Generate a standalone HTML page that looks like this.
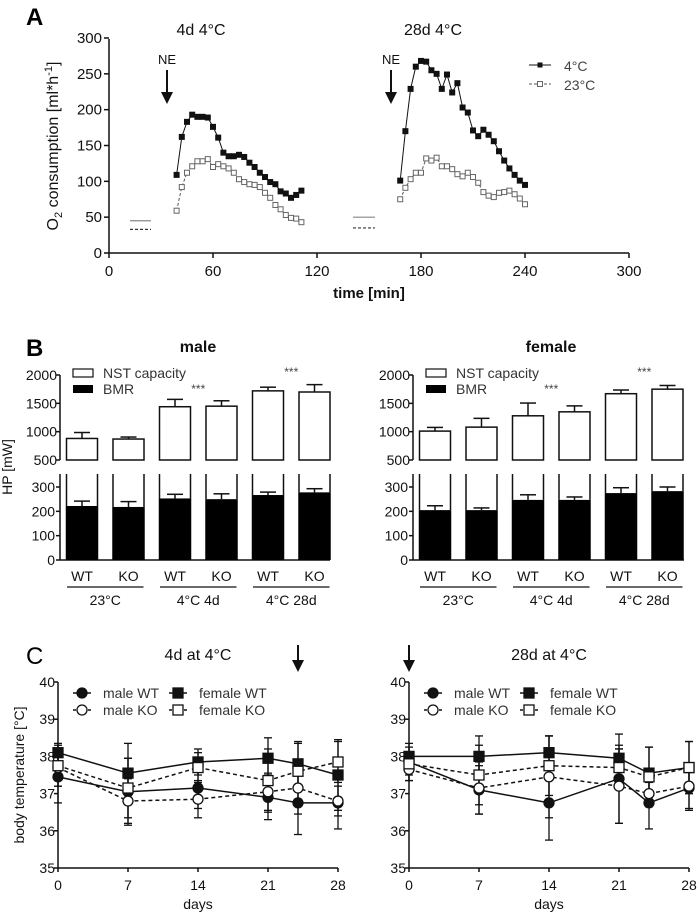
<!DOCTYPE html>
<html><head><meta charset="utf-8"><style>
body{margin:0;background:#fff;}
svg{display:block;font-family:"Liberation Sans",Arial,sans-serif;}
</style></head><body>
<svg id="fig" width="697" height="914" viewBox="0 0 697 914" xmlns="http://www.w3.org/2000/svg">
<text x="26" y="25" font-size="24" font-weight="bold">A</text>
<text x="26" y="356" font-size="24" font-weight="bold">B</text>
<text x="26" y="664" font-size="24">C</text>
</svg>
<script>
// ---------- Panel A data ----------
const aTimes4d = [39,42,45,48,51,54,57,60,63,66,69,72,75,78,81,84,87,90,93,96,99,102,105,108,111];
const aCold4d = [109,162,183,193,190,190,189,176,161,140,135,135,137,134,126,120,112,106,99,96,86,83,77,81,87];
const aWarm4d = [59,92,112,121,128,128,131,120,124,121,118,112,103,99,96,95,92,84,77,67,61,53,49,48,43];
const aTimes28d = [168,171,174,177,180,183,186,189,192,195,198,201,204,207,210,213,216,219,222,225,228,231,234,237,240];
const aCold28d = [101,170,229,260,268,267,255,250,229,249,224,237,203,196,171,163,172,165,156,142,129,118,109,101,95];
const aWarm28d = [75,91,103,112,112,132,129,133,121,121,117,110,107,112,106,98,85,80,78,84,85,87,82,76,68];
const aBaseline4d = [45,33];
const aBaseline28d = [50,35];
const aXTicks = [0,60,120,180,240,300];
const aYTicks = [0,50,100,150,200,250,300];
// ---------- Panel B data ----------
const bCats = ["WT","KO","WT","KO","WT","KO"];
const bGroups = ["23°C","4°C 4d","4°C 28d"];
const bMaleNST = [880,870,1440,1450,1720,1700];
const bMaleNSTErr = [105,35,130,95,65,130];
const bMaleBMR = [222,218,253,250,267,278];
const bMaleBMRErr = [20,22,17,22,12,15];
const bFemaleNST = [1010,1080,1280,1350,1670,1750];
const bFemaleNSTErr = [65,155,225,105,65,65];
const bFemaleBMR = [205,205,247,247,275,283];
const bFemaleBMRErr = [18,9,21,12,22,17];
const bUpperTicks = [500,1000,1500,2000];
const bLowerTicks = [0,100,200,300];
// ---------- Panel C data ----------
const cDays = [0,7,14,21,24,28];
const cXTicks = [0,7,14,21,28];
const cYTicks = [35,36,37,38,39,40];
const c4MaleWT = [37.45,37.05,37.15,36.9,36.75,36.75];
const c4MaleWTErr = [0.7,0.9,0.55,0.6,0.85,0.7];
const c4MaleKO = [37.7,36.8,36.85,37.05,37.15,36.8];
const c4MaleKOErr = [0.5,0.6,0.5,0.5,0.7,0.4];
const c4FemWT = [38.1,37.55,37.85,37.95,37.8,37.5];
const c4FemWTErr = [0.25,0.8,0.35,0.55,0.6,0.95];
const c4FemKO = [37.75,37.15,37.7,37.35,37.6,37.85];
const c4FemKOErr = [0.55,0.8,0.4,0.85,0.75,0.55];
const c28MaleWT = [37.85,37.1,36.75,37.4,36.75,37.15];
const c28MaleWTErr = [0.5,0.65,1.0,1.2,0.7,0.6];
const c28MaleKO = [37.65,37.15,37.45,37.2,37.0,37.2];
const c28MaleKOErr = [0.3,0.7,1.1,1.0,0.3,0.6];
const c28FemWT = [38.0,38.0,38.1,37.95,37.55,37.7];
const c28FemWTErr = [0.25,0.55,0.45,0.35,0.7,0.7];
const c28FemKO = [37.8,37.5,37.75,37.7,37.45,37.7];
const c28FemKOErr = [0.3,0.8,0.8,0.5,0.8,0.7];

const svg = document.getElementById('fig');
const NS = 'http://www.w3.org/2000/svg';
function mk(tag, attrs, parent){
  const e = document.createElementNS(NS, tag);
  for (const k in attrs) e.setAttribute(k, attrs[k]);
  (parent||svg).appendChild(e);
  return e;
}
function txt(x,y,s,size,anchor,extra){
  const t = mk('text', Object.assign({x:x,y:y,'font-size':size,'text-anchor':anchor||'middle',fill:'#111'}, extra||{}));
  t.textContent = s;
  return t;
}
function line(x1,y1,x2,y2,w,dash,col){
  const a = {x1:x1,y1:y1,x2:x2,y2:y2,stroke:col||'#111','stroke-width':w||1.5};
  if (dash) a['stroke-dasharray']=dash;
  return mk('line', a);
}

// ================= Panel A =================
const ax = v => 109 + v*(520/300);
const ay = v => 253 - v*(215/300);
let e;
e = line(109,253,629,253,1.5);  
e = line(109,39,109,253,1.5);  
aXTicks.forEach(t=>{
  e = line(ax(t),253,ax(t),258,1.5);  
  e = txt(ax(t),276,String(t),15);  
});
aYTicks.forEach(t=>{
  e = line(104,ay(t),109,ay(t),1.5);  
  e = txt(102,ay(t)+5,String(t),15,'end');  
});
e = txt(369,298,'time [min]',15,'middle',{'font-weight':'bold'});  
e = txt(0,0,'',16,'middle',{transform:'translate(58,146) rotate(-90)'});
e.innerHTML = 'O<tspan font-size="11" dy="4">2</tspan><tspan dy="-4"> consumption [ml*h</tspan><tspan font-size="11" dy="-6">-1</tspan><tspan dy="6">]</tspan>';
 
e = txt(201,35,'4d 4°C',16);  
e = txt(433,35,'28d 4°C',16);  

function arrow(x,y1,y2,name){
  const g = mk('g',{});
  
  
  mk('line',{x1:x,y1:y1,x2:x,y2:y2-10,stroke:'#111','stroke-width':2},g);
  mk('polygon',{points:`${x-6},${y2-12} ${x+6},${y2-12} ${x},${y2}`,fill:'#111'},g);
  return g;
}
arrow(167,70,104,'a-ne-arrow-4d');
arrow(391,70,104,'a-ne-arrow-28d');
e = txt(167,64,'NE',13);  
e = txt(391,64,'NE',13);  

e = line(130,ay(aBaseline4d[0]),151,ay(aBaseline4d[0]),1.2,null,'#888');  
e = line(130,ay(aBaseline4d[1]),151,ay(aBaseline4d[1]),1.2,'3,2','#333');  
e = line(353,ay(aBaseline28d[0]),375,ay(aBaseline28d[0]),1.2,null,'#888');  
e = line(353,ay(aBaseline28d[1]),375,ay(aBaseline28d[1]),1.2,'3,2','#333');  

function aSeries(times, vals, filled, name){
  const pts = times.map((t,i)=>ax(t)+','+ay(vals[i])).join(' ');
  const pl = mk('polyline',{points:pts,fill:'none',stroke:filled?'#111':'#555','stroke-width':1,'stroke-dasharray':filled?'':'3,2'});
  
  
  times.forEach((t,i)=>{
    const r = mk('rect',{x:ax(t)-2.5,y:ay(vals[i])-2.5,width:5,height:5,fill:filled?'#111':'#fff',stroke:filled?'#111':'#666','stroke-width':1});
    
    
  });
}
aSeries(aTimes4d,aWarm4d,false,'a-23c-4d');
aSeries(aTimes4d,aCold4d,true,'a-4c-4d');
aSeries(aTimes28d,aWarm28d,false,'a-23c-28d');
aSeries(aTimes28d,aCold28d,true,'a-4c-28d');
// legend A
e = line(529,65,551,65,1);  
e = mk('rect',{x:537.5,y:62.5,width:5,height:5,fill:'#111'});  
e = txt(564,71,'4°C',14,'start',{fill:'#444'});  
e = line(529,84,551,84,1,'3,2','#555');  
e = mk('rect',{x:537.5,y:81.5,width:5,height:5,fill:'#fff',stroke:'#666'});  
e = txt(564,90,'23°C',14,'start',{fill:'#444'});  

// ================= Panel B =================
function bPanel(x0, xEnd, nst, nstErr, bmr, bmrErr, title, pfx){
  const uy = v => 460 - (v-500)*(85/1500);
  const ly = v => 560 - v*(73/300);
  const lowTop = 474;
  const bx = i => x0 + 22 + i*46.5;
  const bw = 31;
  e = txt(x0+138,352,title,16,'middle',{'font-weight':'bold'});  
  e = line(x0,375,x0,460,1.5);  
  e = line(x0,lowTop,x0,560,1.5);  
  e = line(x0,560,xEnd,560,1.5);  
  bUpperTicks.forEach(t=>{
    e = line(x0-4,uy(t),x0,uy(t),1.5);  
    e = txt(x0-3,uy(t)+5,String(t),14,'end');  
  });
  bLowerTicks.forEach(t=>{
    e = line(x0-4,ly(t),x0,ly(t),1.5);  
    e = txt(x0-5,ly(t)+5,String(t),14,'end');  
  });
  bCats.forEach((c,i)=>{
    const cx = bx(i);
    e = mk('rect',{x:cx-bw/2,y:uy(nst[i]),width:bw,height:460-uy(nst[i]),fill:'#fff',stroke:'#111','stroke-width':1.5});
     
    e = line(cx,uy(nst[i]),cx,uy(nst[i]+nstErr[i]),1.5);  
    e = line(cx-8,uy(nst[i]+nstErr[i]),cx+8,uy(nst[i]+nstErr[i]),1.5);  
    e = line(cx-bw/2,lowTop,cx-bw/2,ly(bmr[i]),1.5);  
    e = line(cx+bw/2,lowTop,cx+bw/2,ly(bmr[i]),1.5);  
    e = mk('rect',{x:cx-bw/2-0.75,y:ly(bmr[i]),width:bw+1.5,height:560-ly(bmr[i]),fill:'#000'});
     
    e = line(cx,ly(bmr[i]),cx,ly(bmr[i]+bmrErr[i]),1.5);  
    e = line(cx-8,ly(bmr[i]+bmrErr[i]),cx+8,ly(bmr[i]+bmrErr[i]),1.5);  
    e = txt(cx,581,c,14);  
  });
  bGroups.forEach((g,j)=>{
    const c1 = bx(2*j), c2 = bx(2*j+1);
    e = line(c1-15,587,c2+15,587,1.2);  
    e = txt((c1+c2)/2,605,g,14);  
  });
  e = txt((bx(2)+bx(3))/2,393,'***',12,'middle',{fill:'#444'});  
  e = txt((bx(4)+bx(5))/2,376,'***',12,'middle',{fill:'#444'});  
  e = mk('rect',{x:x0+13,y:369,width:20,height:8,fill:'#fff',stroke:'#111','stroke-width':1.2});  
  e = txt(x0+43,378,'NST capacity',14,'start',{fill:'#333'});  
  e = mk('rect',{x:x0+13,y:385,width:20,height:8,fill:'#000'});  
  e = txt(x0+43,394,'BMR',14,'start',{fill:'#333'});  
}
bPanel(60,330,bMaleNST,bMaleNSTErr,bMaleBMR,bMaleBMRErr,'male','b-male');
bPanel(413,684,bFemaleNST,bFemaleNSTErr,bFemaleBMR,bFemaleBMRErr,'female','b-female');
e = txt(0,0,'HP [mW]',14,'middle',{transform:'translate(12,467) rotate(-90)'});  

// ================= Panel C =================
function cPanel(x0, series, title, arrowDay, pfx){
  const cx = d => x0 + d*10;
  const cy = v => 868 - (v-35)*37.2;
  e = line(x0,682,x0,868,1.5);  
  e = line(x0,868,cx(28),868,1.5);  
  cYTicks.forEach(t=>{
    e = line(x0-4,cy(t),x0,cy(t),1.5);  
    e = txt(x0-3,cy(t)+5,String(t),14,'end');  
  });
  cXTicks.forEach(t=>{
    e = line(cx(t),868,cx(t),872,1.5);  
    e = txt(cx(t),890,String(t),14);  
  });
  e = txt(cx(14),909,'days',14);  
  e = txt(cx(14),660,title,16);  
  arrow(cx(arrowDay),645,672,pfx+'-arrow');
  series.forEach(s=>{
    const pts = cDays.map((d,i)=>cx(d)+','+cy(s.v[i])).join(' ');
    e = mk('polyline',{points:pts,fill:'none',stroke:'#111','stroke-width':1.5,'stroke-dasharray':s.dash?'4,3':''});
     
    cDays.forEach((d,i)=>{
      const x = cx(d), y1 = cy(s.v[i]+s.e[i]), y2 = cy(s.v[i]-s.e[i]);
      e = line(x,y1,x,y2,1.3);  
      e = line(x-4,y1,x+4,y1,1.3);  
      e = line(x-4,y2,x+4,y2,1.3);  
    });
  });
  series.forEach(s=>{
    cDays.forEach((d,i)=>{
      const x = cx(d), y = cy(s.v[i]);
      if (s.shape==='c') e = mk('circle',{cx:x,cy:y,r:5,fill:s.fill,stroke:'#111','stroke-width':1.3});
      else e = mk('rect',{x:x-5,y:y-5,width:10,height:10,fill:s.fill,stroke:'#111','stroke-width':1.3});
       
    });
  });
  const leg = [['male WT','c','#111',false,0,0],['male KO','c','#fff',true,0,1],['female WT','s','#111',false,1,0],['female KO','s','#fff',true,1,1]];
  leg.forEach(l=>{
    const lx = x0+24+l[4]*96, ly = 693+l[5]*17;
    e = line(lx-9,ly,lx+9,ly,1.5,l[3]?'3,2':null);  
    if (l[1]==='c') e = mk('circle',{cx:lx,cy:ly,r:5,fill:l[2],stroke:'#111','stroke-width':1.3});
    else e = mk('rect',{x:lx-5,y:ly-5,width:10,height:10,fill:l[2],stroke:'#111','stroke-width':1.3});
     
    e = txt(lx+21,ly+5,l[0],14,'start',{fill:'#333'});  
  });
}
cPanel(58,[
  {n:'male-wt',v:c4MaleWT,e:c4MaleWTErr,shape:'c',fill:'#111',dash:false},
  {n:'male-ko',v:c4MaleKO,e:c4MaleKOErr,shape:'c',fill:'#fff',dash:true},
  {n:'female-wt',v:c4FemWT,e:c4FemWTErr,shape:'s',fill:'#111',dash:false},
  {n:'female-ko',v:c4FemKO,e:c4FemKOErr,shape:'s',fill:'#fff',dash:true}
],'4d at 4°C',24,'c-4d');
cPanel(409,[
  {n:'male-wt',v:c28MaleWT,e:c28MaleWTErr,shape:'c',fill:'#111',dash:false},
  {n:'male-ko',v:c28MaleKO,e:c28MaleKOErr,shape:'c',fill:'#fff',dash:true},
  {n:'female-wt',v:c28FemWT,e:c28FemWTErr,shape:'s',fill:'#111',dash:false},
  {n:'female-ko',v:c28FemKO,e:c28FemKOErr,shape:'s',fill:'#fff',dash:true}
],'28d at 4°C',0,'c-28d');
e = txt(0,0,'body temperature [°C]',14,'middle',{transform:'translate(24,775) rotate(-90)'});  
</script>
</body></html>
